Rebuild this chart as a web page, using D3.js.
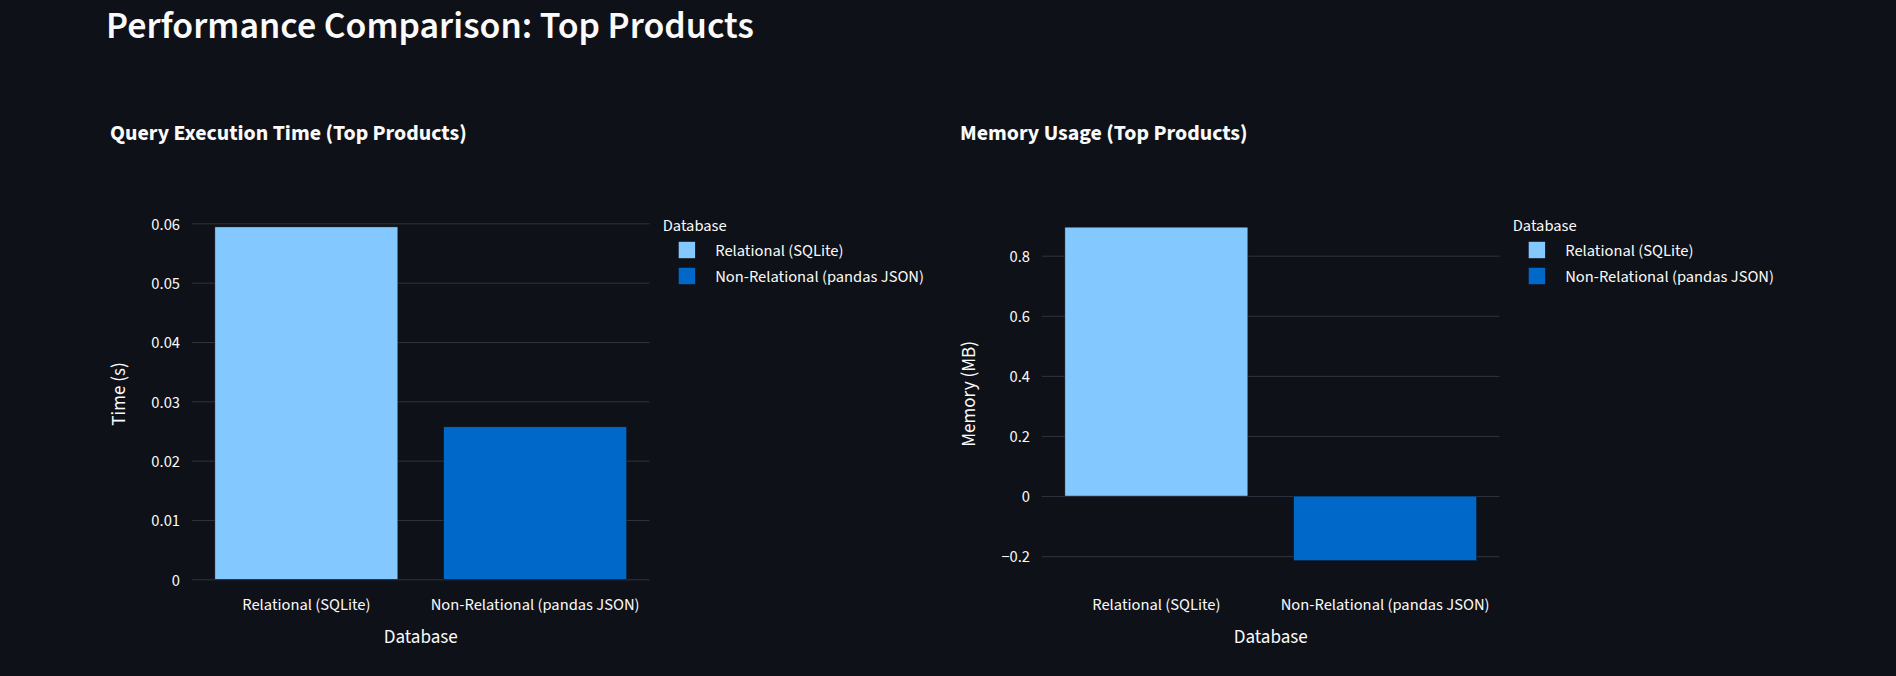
<!DOCTYPE html>
<html>
<head>
<meta charset="utf-8">
<script src="https://cdn.jsdelivr.net/npm/d3@7"></script>
<style>
  html, body { margin: 0; padding: 0; background: #0e1117; }
  svg { display: block; }
</style>
</head>
<body>
<svg id="chart" width="1896" height="676"></svg>
<script>
// ---------- data ----------
const pageTitle = "Performance Comparison: Top Products";
const categories = ["Relational (SQLite)", "Non-Relational (pandas JSON)"];
const seriesColors = ["#83c9ff", "#0068c9"];
const legendTitle = "Database";
const xAxisTitle = "Database";

const timeTitle = "Query Execution Time (Top Products)";
const timeAxisTitle = "Time (s)";
const timeValues = [0.0594, 0.0257];
const timeTicks = [0, 0.01, 0.02, 0.03, 0.04, 0.05, 0.06];
const timeTickLabels = ["0", "0.01", "0.02", "0.03", "0.04", "0.05", "0.06"];
const timeDomain = [0, 0.0625];

const memTitle = "Memory Usage (Top Products)";
const memAxisTitle = "Memory (MB)";
const memValues = [0.895, -0.215];
const memTicks = [-0.2, 0, 0.2, 0.4, 0.6, 0.8];
const memTickLabels = ["\u22120.2", "0", "0.2", "0.4", "0.6", "0.8"];
const memDomain = [-0.277, 0.957];

// ---------- style ----------
const FONT = '"Source Sans Pro", "Source Sans 3", Lato, "Noto Sans", sans-serif';
const TEXT = "#fafafa";
const GRID = "#31333F";
const BG = "#0e1117";

const svg = d3.select("#chart");
svg.append("rect").attr("width", 1896).attr("height", 676).attr("fill", BG);

// fit font sizes to measured widths in the reference
function fitSize(text, weight, target) {
  const t = svg.append("text").attr("font-family", FONT).attr("font-weight", weight)
    .attr("font-size", 100).text(text);
  const w = t.node().getComputedTextLength();
  t.remove();
  return 100 * target / w;
}
const smallSize = fitSize("Non-Relational (pandas JSON)", 400, 209);
const axisTitleSize = fitSize("Database", 400, 74);
const subTitleSize = fitSize(timeTitle, 700, 357);
const mainTitleSize = fitSize(pageTitle, 600, 648);

svg.append("text")
  .attr("x", 106).attr("y", 38)
  .attr("font-family", FONT).attr("font-weight", 600)
  .attr("font-size", mainTitleSize).attr("fill", TEXT)
  .text(pageTitle);

function drawPanel(offsetX, title, axisTitle, values, ticks, tickLabels, domain) {
  const left = 192 + offsetX, right = 649.5 + offsetX;
  const top = 208.5, bottom = 579.3;
  const g = svg.append("g");

  const x = d3.scaleBand().domain(categories).range([left, right]).paddingInner(0.2).paddingOuter(0.1);
  const y = d3.scaleLinear().domain(domain).range([bottom, top]);

  // subtitle
  g.append("text").attr("x", 110 + offsetX).attr("y", 139.5)
    .attr("font-family", FONT).attr("font-weight", 700)
    .attr("font-size", subTitleSize).attr("fill", TEXT).text(title);

  // y axis with grid
  const yAxis = d3.axisLeft(y).tickValues(ticks)
    .tickFormat((d, i) => tickLabels[i])
    .tickSize(-(right - left)).tickPadding(12);
  const ya = g.append("g").attr("transform", `translate(${left},0)`).call(yAxis);
  ya.select(".domain").remove();
  ya.selectAll(".tick line").attr("stroke", GRID).attr("stroke-width", 1);
  ya.selectAll(".tick text").attr("fill", TEXT).attr("font-family", FONT)
    .attr("font-size", smallSize).attr("dy", "0.35em");

  // bars
  g.selectAll("rect.bar").data(values).join("rect")
    .attr("class", "bar")
    .attr("x", (d, i) => x(categories[i]))
    .attr("width", x.bandwidth())
    .attr("y", d => Math.min(y(d), y(0)))
    .attr("height", d => Math.abs(y(d) - y(0)))
    .attr("fill", (d, i) => seriesColors[i])
    .attr("stroke", BG).attr("stroke-width", 0.5);

  // x axis labels
  const xAxis = d3.axisBottom(x).tickSize(0).tickPadding(0);
  const xa = g.append("g").attr("transform", `translate(0,604)`).call(xAxis);
  xa.select(".domain").remove();
  xa.selectAll(".tick text").attr("fill", TEXT).attr("font-family", FONT)
    .attr("font-size", smallSize).attr("dy", "0.35em").attr("y", 0);

  // axis titles
  g.append("text").attr("x", (left + right) / 2).attr("y", 636.7).attr("dy", "0.35em")
    .attr("text-anchor", "middle").attr("font-family", FONT)
    .attr("font-size", axisTitleSize).attr("fill", TEXT).text(xAxisTitle);
  g.append("text")
    .attr("transform", `translate(${118 + offsetX},${(top + bottom) / 2}) rotate(-90)`)
    .attr("dy", "0.35em").attr("text-anchor", "middle").attr("font-family", FONT)
    .attr("font-size", axisTitleSize).attr("fill", TEXT).text(axisTitle);

  // legend
  const lx = 662.7 + offsetX;
  g.append("text").attr("x", lx).attr("y", 225).attr("dy", "0.35em")
    .attr("font-family", FONT).attr("font-size", smallSize).attr("fill", TEXT).text(legendTitle);
  const items = g.selectAll("g.leg").data(categories).join("g").attr("class", "leg")
    .attr("transform", (d, i) => `translate(${lx},${250 + i * 26})`);
  items.append("rect").attr("x", 16).attr("y", -8.2).attr("width", 16.4).attr("height", 16.4)
    .attr("fill", (d, i) => seriesColors[i]);
  items.append("text").attr("x", 52.5).attr("dy", "0.35em")
    .attr("font-family", FONT).attr("font-size", smallSize).attr("fill", TEXT).text(d => d);
}

drawPanel(0, timeTitle, timeAxisTitle, timeValues, timeTicks, timeTickLabels, timeDomain);
drawPanel(850, memTitle, memAxisTitle, memValues, memTicks, memTickLabels, memDomain);
</script>
</body>
</html>
